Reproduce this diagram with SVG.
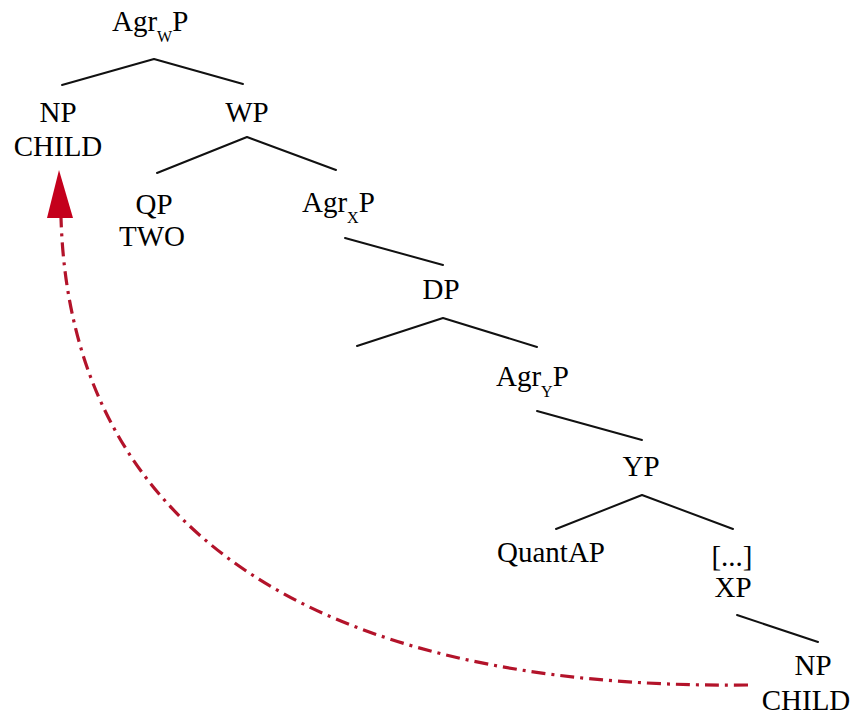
<svg xmlns="http://www.w3.org/2000/svg" width="867" height="719" viewBox="0 0 867 719">
<style>
  text { font-family: "Liberation Serif", "Times New Roman", serif; font-size: 29px; fill: #000; }
  .m { text-anchor: middle; }
  .sub { font-size: 16px; }
  .edge { stroke: #111; stroke-width: 2; fill: none; stroke-linecap: round; stroke-linejoin: round; }
  .move { stroke: #b3132a; stroke-width: 3.2; fill: none; stroke-dasharray: 14 6 3 6; }
</style>
<rect width="867" height="719" fill="#ffffff"/>
<g id="connectors">
  <polyline class="edge" points="62,85 154,59 243,84"/>
  <polyline class="edge" points="157,173 247,137 336,170"/>
  <line class="edge" x1="345" y1="238" x2="443" y2="265"/>
  <polyline class="edge" points="357,346 443,318 537,347"/>
  <line class="edge" x1="537" y1="411" x2="642" y2="440"/>
  <polyline class="edge" points="556,529 642,495 733,529"/>
  <line class="edge" x1="737" y1="615" x2="818" y2="642"/>
  <path class="move" d="M748,685 C300,690 70,520 61,218"/>
  <polygon points="59,170 47,218 73,218" fill="#c4001c"/>
</g>
<g id="AgrWP"><text x="112" y="31">Agr<tspan class="sub" dy="11">W</tspan><tspan dy="-11">P</tspan></text></g>
<g id="NP_top"><text class="m" x="58" y="122">NP</text><text class="m" x="58" y="156">CHILD</text></g>
<g id="WP"><text class="m" x="247" y="122">WP</text></g>
<g id="QP"><text class="m" x="154" y="214">QP</text><text class="m" x="152" y="246">TWO</text></g>
<g id="AgrXP"><text x="302" y="212">Agr<tspan class="sub" dy="11">X</tspan><tspan dy="-11">P</tspan></text></g>
<g id="DP"><text class="m" x="441" y="299">DP</text></g>
<g id="AgrYP"><text x="496" y="386">Agr<tspan class="sub" dy="11">Y</tspan><tspan dy="-11">P</tspan></text></g>
<g id="YP"><text class="m" x="641" y="476">YP</text></g>
<g id="QuantAP"><text class="m" x="551" y="562">QuantAP</text></g>
<g id="XP"><text class="m" x="732" y="566">[...]</text><text class="m" x="733" y="597">XP</text></g>
<g id="NP_bottom"><text class="m" x="813" y="675">NP</text><text class="m" x="806" y="710">CHILD</text></g>
</svg>
